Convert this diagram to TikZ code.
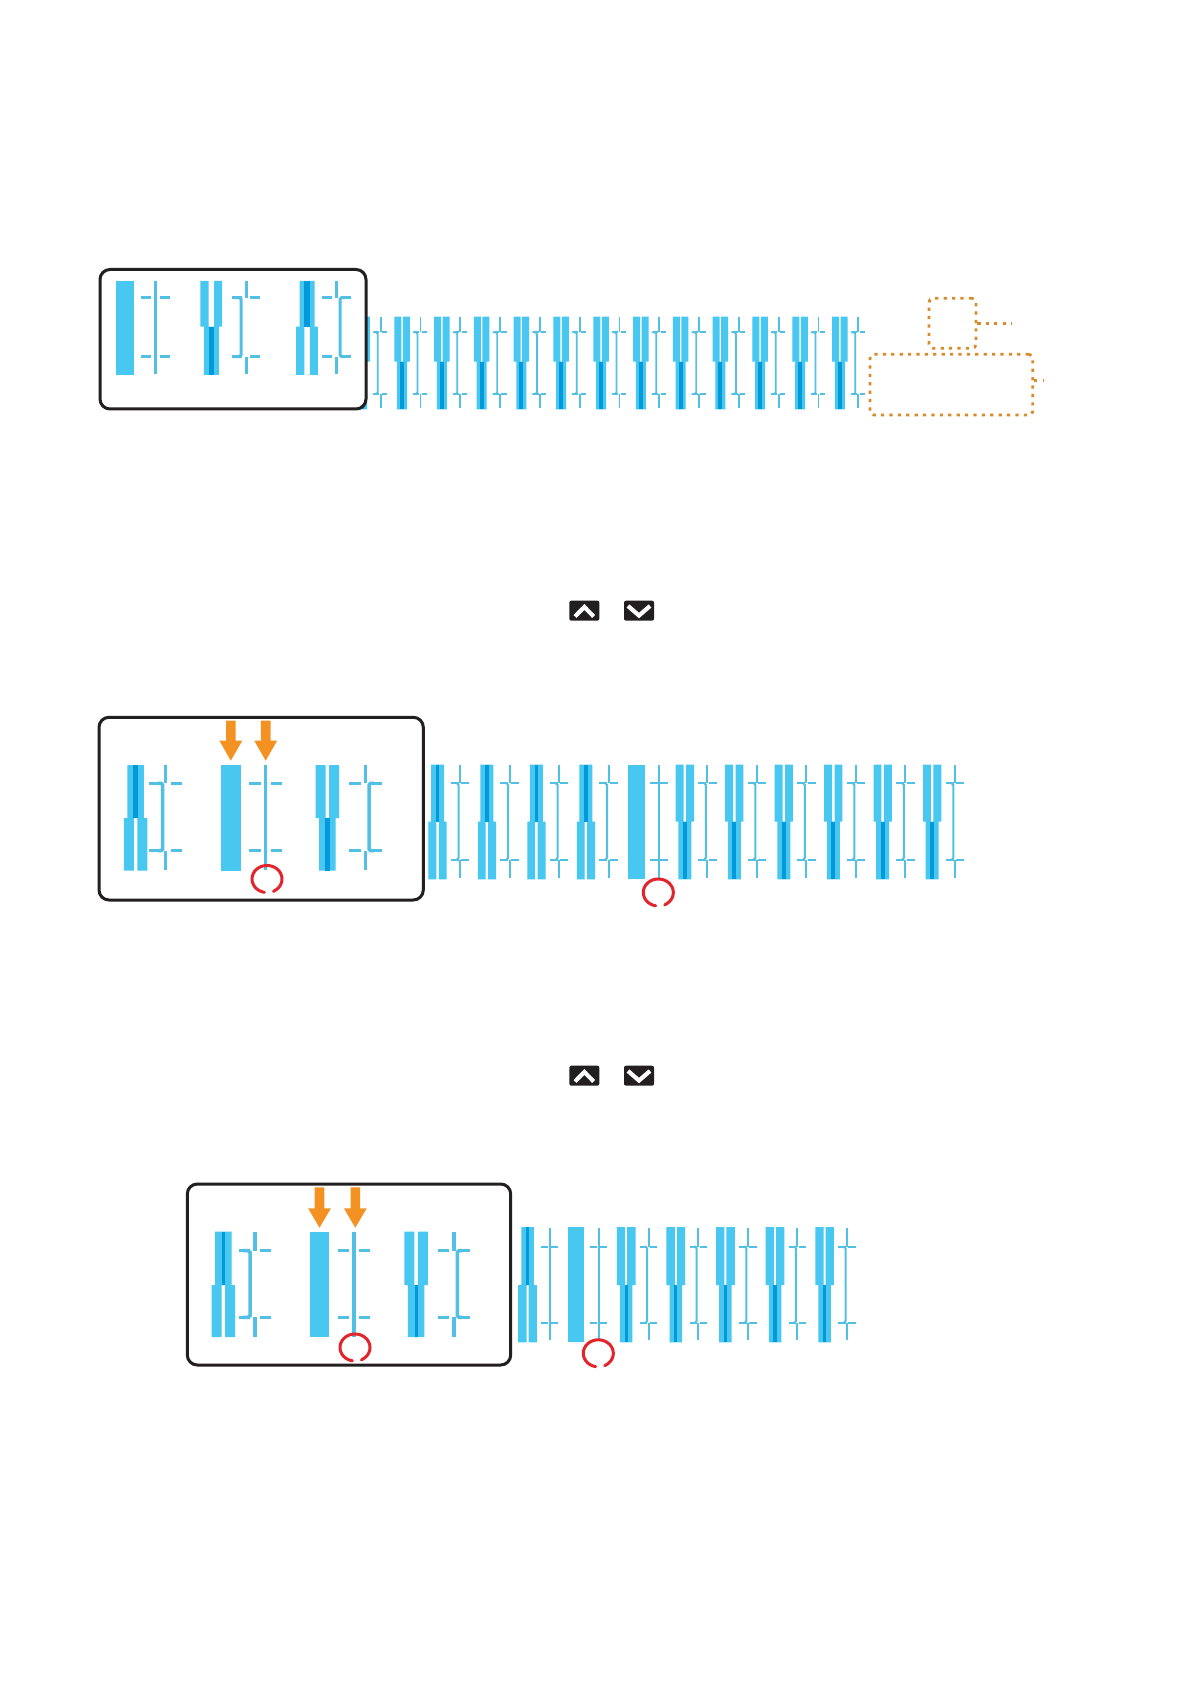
\documentclass[tikz,border=0pt]{standalone}
\usetikzlibrary{decorations.pathmorphing}

\definecolor{barlight}{HTML}{48C7F1}
\definecolor{bardark}{HTML}{0099D9}
\definecolor{tickblue}{HTML}{52BFE4}
\definecolor{arroworange}{HTML}{F39223}
\definecolor{dotorange}{HTML}{D98B2B}
\definecolor{ringred}{HTML}{E3242B}
\definecolor{boxline}{HTML}{231F20}

% bar geometry: top, middle, bottom, wide, narrow, core, gap, solid
\newcommand{\setbars}[8]{\def\bTop{#1}\def\bMid{#2}\def\bBot{#3}\def\bWide{#4}%
  \def\bNarrow{#5}\def\bCore{#6}\def\bGap{#7}\def\bSolid{#8}}
% mark geometry: top, upper dash, lower dash, bottom, dash inner, dash outer, width
\newcommand{\setmarks}[7]{\def\mTop{#1}\def\mUp{#2}\def\mLow{#3}\def\mBot{#4}%
  \def\mIn{#5}\def\mOut{#6}\def\mWidth{#7}}

\newcommand{\solidbar}[1]{\fill[barlight] ({#1-\bSolid/2},\bTop) rectangle ({#1+\bSolid/2},\bBot);}
\newcommand{\topsplit}[1]{%
  \fill[barlight] ({#1-\bWide/2},\bTop) rectangle ({#1-\bGap/2},\bMid)
                  ({#1+\bGap/2},\bTop) rectangle ({#1+\bWide/2},\bMid)
                  ({#1-\bNarrow/2},\bMid) rectangle ({#1+\bNarrow/2},\bBot);
  \fill[bardark] ({#1-\bCore/2},\bMid) rectangle ({#1+\bCore/2},\bBot);}
\newcommand{\botsplit}[1]{%
  \fill[barlight] ({#1-\bNarrow/2},\bTop) rectangle ({#1+\bNarrow/2},\bMid)
                  ({#1-\bWide/2},\bMid) rectangle ({#1-\bGap/2},\bBot)
                  ({#1+\bGap/2},\bMid) rectangle ({#1+\bWide/2},\bBot);
  \fill[bardark] ({#1-\bCore/2},\bTop) rectangle ({#1+\bCore/2},\bMid);}

\newcommand{\tickmark}[2]{% #1 centre, #2 shift of the long line
  \draw[tickline] (#1,\mTop) -- (#1,\mUp) (#1,\mLow) -- (#1,\mBot)
    ({#1-\mOut},\mUp) -- ({#1-\mIn},\mUp) ({#1+\mIn},\mUp) -- ({#1+\mOut},\mUp)
    ({#1-\mOut},\mLow) -- ({#1-\mIn},\mLow) ({#1+\mIn},\mLow) -- ({#1+\mOut},\mLow);
  \ifdim #2pt=0pt
    \draw[tickline] (#1,\mUp) -- (#1,\mLow);
  \else
    \draw[tickline, rounded corners=0.8pt] ({#1+2.5*(#2)},\mUp) -- ({#1+#2},\mUp)
      -- ({#1+#2},\mLow) -- ({#1+2.5*(#2)},\mLow);
  \fi}

\newcommand{\orangearrow}[4]{% centre, top, head base, tip
  \fill[arroworange] ({#1-4.8},#2) -- ({#1+4.8},#2) -- ({#1+4.8},#3) -- ({#1+11.4},#3)
    -- (#1,#4) -- ({#1-11.4},#3) -- ({#1-4.8},#3) -- cycle;}

\newcommand{\redring}[2]{%
  \draw[ringline] plot[domain=100:425, samples=50] ({#1+15*cos(\x)},{#2+13.5*sin(\x)});}

\newcommand{\keypair}[1]{% #1 top edge of the keys
  \fill[boxline, rounded corners=1pt] (569.3,#1) rectangle (599.3,{#1+20});
  \fill[boxline, rounded corners=1pt] (624,#1) rectangle (654,{#1+20});
  \draw[chevron] (575,{#1+15.8}) -- (584.3,{#1+6.3}) -- (593.7,{#1+15.8});
  \draw[chevron] (628,{#1+5.3}) -- (639,{#1+14.8}) -- (650,{#1+5.3});}

\begin{document}
\begin{tikzpicture}[x=0.5pt, y=-0.5pt,
  panelbox/.style={draw=boxline, line width=1.5pt, rounded corners=5pt, fill=white},
  tickline/.style={draw=tickblue, line width=\mWidth},
  calloutbox/.style={draw=dotorange, line width=1.4pt, dash pattern=on 1.6pt off 2.6pt,
    rounded corners=2pt, inner sep=0pt},
  calloutdot/.style={draw=dotorange, line width=1.4pt, dash pattern=on 1.6pt off 2.6pt},
  chevron/.style={draw=white, line width=2.1pt},
  ringline/.style={draw=ringred, line width=1.5pt, line cap=round, decorate,
    decoration={random steps, segment length=1.5pt, amplitude=0.3pt}}]

  \fill[white] (0,0) rectangle (1190,1684);

  % Panel 1: strip behind the box
  \setbars{316.7}{361.7}{409.3}{15.5}{10}{4}{1.5}{13}
  \setmarks{317}{332.3}{394}{408.5}{1.3}{6.5}{0.85pt}
  \foreach \k [evaluate=\k as \cx using 402+39.8*\k] in {-1,...,11} {\topsplit{\cx}}
  \foreach \k [evaluate=\k as \cx using 420.5+39.8*\k] in {-1,...,11} {\tickmark{\cx}{-3}}

  % Panel 1: enlarged view
  \draw[panelbox] (100,269.5) rectangle (366,409);
  \setbars{281}{326.7}{375}{21.7}{15}{5.5}{5.5}{18}
  \setmarks{281}{297.7}{356.7}{374}{4.3}{14.3}{1.5pt}
  \solidbar{125}   \tickmark{155.7}{0}
  \topsplit{211.3} \tickmark{246}{-5}
  \botsplit{307}   \tickmark{336.3}{3.7}

  % Panel 1: callouts
  \node[calloutbox, minimum width=23.5pt, minimum height=25pt] (smallcall) at (952.5,323.3) {};
  \node[calloutbox, minimum width=81.4pt, minimum height=30.4pt] (bigcall) at (951.4,384.7) {};
  \coordinate (smallcall-end) at (1011.7,323.3);
  \coordinate (bigcall-end) at (1043,380.7);
  \draw[calloutdot] (smallcall.east) -- (smallcall-end);
  \draw[calloutdot] ([yshift=2pt]bigcall.east) -- (bigcall-end);

  \keypair{600.7}

  % Panel 2: strip
  \setbars{764.5}{821.7}{879.3}{18.3}{13}{3.7}{2.5}{16.7}
  \setmarks{765}{783.3}{859.5}{878}{1.3}{9.2}{1pt}
  \foreach \k [evaluate=\k as \cx using 437.5+49.47*\k] in {0,...,3} {\botsplit{\cx}}
  \solidbar{636.3}
  \foreach \k [evaluate=\k as \cx using 437.5+49.47*\k] in {5,...,10} {\topsplit{\cx}}
  \foreach \k [evaluate=\k as \cx using 460.1+49.47*\k] in {0,1,2,3,5,6,7,8,9,10} {\tickmark{\cx}{-1.5}}
  \tickmark{659}{0}
  \redring{658.3}{892.5}

  % Panel 2: enlarged view
  \draw[panelbox] (99,717.3) rectangle (423.3,900);
  \setbars{765}{818}{870.5}{23.5}{16.5}{5}{3.5}{20}
  \setmarks{764.5}{783.3}{850.7}{869.5}{5}{16.5}{1.75pt}
  \botsplit{135.5} \tickmark{165.7}{-3}
  \solidbar{231}   \tickmark{265.7}{0}
  \topsplit{327.3} \tickmark{365.7}{3.3}
  \orangearrow{230.8}{720.7}{740.7}{760.7}
  \orangearrow{265.7}{720.7}{740.7}{760.7}
  \redring{267}{879}

  \keypair{1065.7}

  % Panel 3: strip
  \setbars{1227}{1285}{1342.3}{18.7}{12.5}{3.3}{2}{16.7}
  \setmarks{1228.3}{1246.7}{1322.7}{1340}{1.3}{8.7}{1pt}
  \botsplit{527.5}
  \solidbar{576}
  \foreach \k [evaluate=\k as \cx using 527+49.6*\k] in {2,...,6} {\topsplit{\cx}}
  \tickmark{549.6}{0}
  \tickmark{598.6}{0}
  \foreach \k [evaluate=\k as \cx using 549.4+49.6*\k] in {2,...,6} {\tickmark{\cx}{-1.5}}
  \redring{598.3}{1353.3}

  % Panel 3: enlarged view
  \draw[panelbox] (187.3,1184) rectangle (510.7,1365);
  \setbars{1231.7}{1285}{1337}{23.5}{16.5}{3}{3.5}{19}
  \setmarks{1231.5}{1250.7}{1317.3}{1336.7}{5}{16}{1.75pt}
  \botsplit{223.3} \tickmark{255}{-5}
  \solidbar{319.5} \tickmark{354}{0}
  \topsplit{416.2} \tickmark{454}{3.3}
  \orangearrow{319.5}{1187.3}{1208.3}{1227.7}
  \orangearrow{355.3}{1187.3}{1208.3}{1227.7}
  \redring{355}{1347.5}
\end{tikzpicture}
\end{document}
